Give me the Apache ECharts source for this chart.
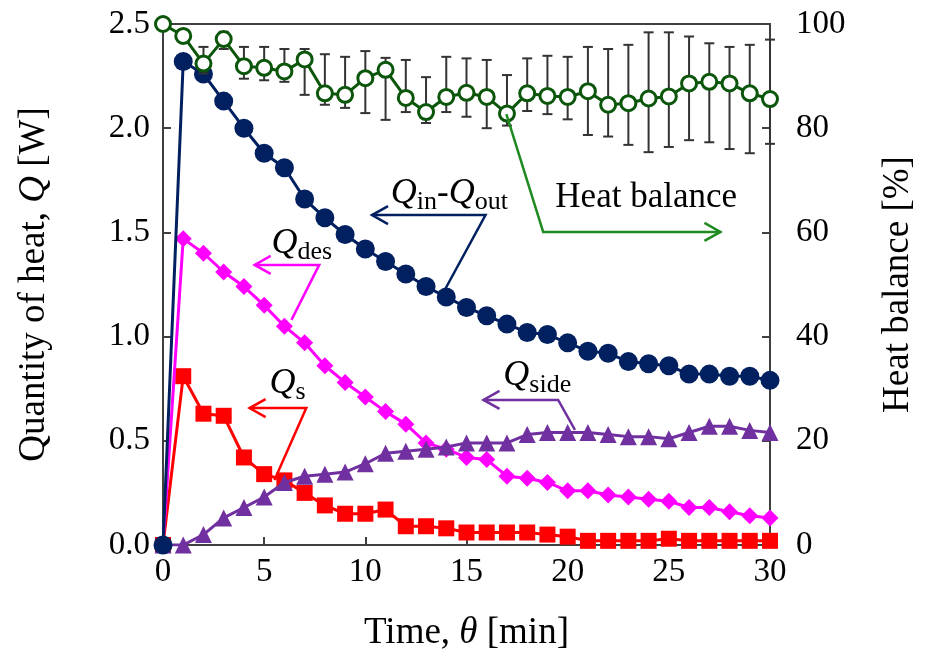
<!DOCTYPE html>
<html>
<head>
<meta charset="utf-8">
<title>heat balance</title>
<script src="https://cdn.jsdelivr.net/npm/echarts@6/dist/echarts.min.js"></script>
<style>
  html, body { margin: 0; padding: 0; background: #fff; }
  #container { width: 925px; height: 665px; }
</style>
</head>
<body>
<div id="container"></div>
<script type="text/javascript">
    // time [min]
    var times = [0, 1, 2, 3, 4, 5, 6, 7, 8, 9, 10, 11, 12, 13, 14, 15, 16, 17, 18, 19, 20, 21, 22, 23, 24, 25, 26, 27, 28, 29, 30];
    // Qin - Qout [W]
    var qNet = [0, 2.32, 2.26, 2.13, 2.00, 1.88, 1.81, 1.66, 1.57, 1.49, 1.42, 1.36, 1.30, 1.24, 1.19, 1.14,
                1.10, 1.06, 1.02, 1.01, 0.97, 0.93, 0.92, 0.88, 0.87, 0.86, 0.82, 0.82, 0.81, 0.81, 0.79];
    // Qdes [W]
    var qDes = [0, 1.47, 1.40, 1.31, 1.24, 1.15, 1.05, 0.97, 0.86, 0.78, 0.71, 0.64, 0.58, 0.49, 0.46, 0.42,
                0.41, 0.33, 0.32, 0.30, 0.26, 0.26, 0.24, 0.23, 0.22, 0.21, 0.18, 0.18, 0.16, 0.14, 0.13];
    // Qs [W]
    var qS = [0, 0.81, 0.63, 0.62, 0.42, 0.34, 0.31, 0.25, 0.19, 0.15, 0.15, 0.17, 0.09, 0.09, 0.08, 0.06,
              0.06, 0.06, 0.06, 0.05, 0.04, 0.02, 0.02, 0.02, 0.02, 0.03, 0.02, 0.02, 0.02, 0.02, 0.02];
    // Qside [W]
    var qSide = [0, 0.00, 0.05, 0.13, 0.18, 0.23, 0.30, 0.33, 0.34, 0.35, 0.39, 0.44, 0.45, 0.46, 0.47, 0.49,
                 0.49, 0.49, 0.53, 0.54, 0.54, 0.54, 0.53, 0.52, 0.52, 0.51, 0.54, 0.57, 0.57, 0.55, 0.54];
    // heat balance [%] and its error bar ends
    var heatBalance = [100, 97.7, 92.4, 97.1, 91.9, 91.6, 90.9, 93.2, 86.7, 86.4, 89.6, 91.2, 85.8, 83.1, 86.0, 86.8,
                       86.0, 82.8, 86.7, 86.2, 86.0, 87.1, 84.5, 84.8, 85.7, 86.1, 88.6, 88.9, 88.6, 86.7, 85.6];
    var hbHigh = [null, null, 95.6, 98.5, 95.6, 95.6, 95.2, 95.2, 94.2, 93.7, 94.8, 93.5, 93.1, 89.8, 93.7, 93.4,
                  93.1, 90.2, 93.4, 93.9, 93.7, 95.6, 95.2, 96.0, 98.4, 98.4, 97.6, 96.3, 95.6, 96.0, 97.0];
    var hbLow = [null, null, 90.5, 95.2, 89.5, 89.2, 88.9, 86.4, 84.5, 83.9, 82.9, 81.6, 83.1, 81.0, 83.1, 82.2,
                 80.0, 80.5, 83.3, 82.7, 81.7, 78.7, 78.4, 76.8, 75.4, 76.4, 77.7, 77.3, 76.0, 75.2, 77.0];

    // tick labels
    var xTicks = [0, 5, 10, 15, 20, 25, 30];
    var qTicks = ['0.0', '0.5', '1.0', '1.5', '2.0', '2.5'];
    var hbTicks = [0, 20, 40, 60, 80, 100];

    // annotation anchors in data units: [time, value]; axis 0 = Q, 1 = heat balance
    var notes = [
        {axis: 0, color: '#002060', dir: -1, label: ['Q', 'in', '-', 'Q', 'out'],
         text: [11.26, 1.60], path: [[13.87, 1.214], [15.94, 1.583], [10.33, 1.583]]},
        {axis: 0, color: '#ff00ff', dir: -1, label: ['Q', 'des'],
         text: [5.36, 1.36], path: [[6.35, 1.08], [7.72, 1.344], [4.53, 1.344]]},
        {axis: 0, color: '#ff0000', dir: -1, label: ['Q', 's'],
         text: [5.26, 0.69], path: [[5.51, 0.312], [7.08, 0.657], [4.28, 0.657]]},
        {axis: 0, color: '#7030a0', dir: -1, label: ['Q', 'side'],
         text: [16.82, 0.725], path: [[20.36, 0.552], [19.53, 0.696], [15.84, 0.696]]},
        {axis: 1, color: '#1f8a1f', dir: 1, label: ['Heat balance'],
         text: [19.39, 63.3], path: [[16.97, 82.7], [18.79, 60.1], [27.55, 60.1]]}
    ];

    var FONT = '"Liberation Serif", "Times New Roman", serif';

    var pairs = function (ys) {
        return times.map(function (t, i) { return [t, ys[i]]; });
    };
    var errData = [];
    for (var i = 0; i < times.length; i++) {
        if (hbHigh[i] != null) errData.push([times[i], hbLow[i], hbHigh[i]]);
    }

    var dom = document.getElementById('container');
    var myChart = echarts.init(dom, null, {renderer: 'canvas'});

    var titleRich = {
        n: {fontFamily: FONT, fontSize: 37, color: '#000'},
        i: {fontFamily: FONT, fontSize: 37, fontStyle: 'italic', color: '#000'}
    };

    var option = {
        animation: false,
        backgroundColor: '#fff',
        textStyle: {fontFamily: FONT, color: '#000'},
        grid: {
            left: 163, right: 152, top: 24, bottom: 120,
            show: true, borderColor: '#404040', borderWidth: 2
        },
        xAxis: {
            type: 'value', min: 0, max: 30, interval: 5,
            name: '{n|Time, }{i|θ}{n| [min]}',
            nameLocation: 'middle', nameGap: 70,
            nameTextStyle: {rich: titleRich},
            axisLine: {onZero: false, lineStyle: {color: '#404040', width: 2}},
            axisTick: {inside: true, length: 8, lineStyle: {color: '#404040', width: 2}},
            axisLabel: {
                fontFamily: FONT, fontSize: 33, color: '#000', margin: 11,
                formatter: function (v) { return xTicks.indexOf(v) >= 0 ? String(v) : ''; }
            },
            splitLine: {show: false}
        },
        yAxis: [
            {
                type: 'value', min: 0, max: 2.5, interval: 0.5,
                name: '{n|Quantity of heat, }{i|Q}{n| [W]}',
                nameLocation: 'middle', nameGap: 110, nameRotate: 90,
                nameTextStyle: {rich: titleRich},
                axisLine: {show: true, lineStyle: {color: '#404040', width: 2}},
                axisTick: {show: true, inside: true, length: 8, lineStyle: {color: '#404040', width: 2}},
                axisLabel: {
                    fontFamily: FONT, fontSize: 33, color: '#000', margin: 13,
                    formatter: function (v) { return qTicks[Math.round(v / 0.5)]; }
                },
                splitLine: {show: false}
            },
            {
                type: 'value', min: 0, max: 100, interval: 20, position: 'right',
                name: 'Heat balance [%]',
                nameLocation: 'middle', nameGap: 110, nameRotate: 90,
                nameTextStyle: {fontFamily: FONT, fontSize: 37, color: '#000'},
                axisLine: {show: true, lineStyle: {color: '#404040', width: 2}},
                axisTick: {show: true, inside: true, length: 8, lineStyle: {color: '#404040', width: 2}},
                axisLabel: {
                    fontFamily: FONT, fontSize: 33, color: '#000', margin: 26,
                    formatter: function (v) { return hbTicks.indexOf(v) >= 0 ? String(v) : ''; }
                },
                splitLine: {show: false}
            }
        ],
        series: [
            {
                name: 'Qs', type: 'line', data: pairs(qS), z: 3,
                symbol: 'rect', symbolSize: 16,
                lineStyle: {color: '#ff0000', width: 3},
                itemStyle: {color: '#ff0000'}
            },
            {
                name: 'Qdes', type: 'line', data: pairs(qDes), z: 4,
                symbol: 'diamond', symbolSize: 17,
                lineStyle: {color: '#ff00ff', width: 3},
                itemStyle: {color: '#ff00ff'}
            },
            {
                name: 'Qside', type: 'line', data: pairs(qSide), z: 5,
                symbol: 'triangle', symbolSize: 17,
                lineStyle: {color: '#7030a0', width: 3},
                itemStyle: {color: '#7030a0'}
            },
            {
                name: 'Qin-Qout', type: 'line', data: pairs(qNet), z: 6,
                symbol: 'circle', symbolSize: 19,
                lineStyle: {color: '#002060', width: 3},
                itemStyle: {color: '#002060'}
            },
            {
                name: 'err', type: 'custom', yAxisIndex: 1, z: 7,
                data: errData,
                renderItem: function (params, api) {
                    var top = api.coord([api.value(0), api.value(2)]);
                    var bot = api.coord([api.value(0), api.value(1)]);
                    var w = 5;
                    var st = {stroke: '#333', lineWidth: 2};
                    return {
                        type: 'group',
                        children: [
                            {type: 'line', shape: {x1: top[0], y1: top[1], x2: bot[0], y2: bot[1]}, style: st},
                            {type: 'line', shape: {x1: top[0] - w, y1: top[1], x2: top[0] + w, y2: top[1]}, style: st},
                            {type: 'line', shape: {x1: bot[0] - w, y1: bot[1], x2: bot[0] + w, y2: bot[1]}, style: st}
                        ]
                    };
                }
            },
            {
                name: 'Heat balance', type: 'line', yAxisIndex: 1, data: pairs(heatBalance), z: 8,
                symbol: 'circle', symbolSize: 15,
                lineStyle: {color: '#0c560c', width: 3},
                itemStyle: {color: '#fff', borderColor: '#0c560c', borderWidth: 3}
            }
        ]
    };

    myChart.setOption(option, true);

    // annotations: label text + polyline with an open arrow head at its last point
    var graphics = [];
    notes.forEach(function (n) {
        var finder = {xAxisIndex: 0, yAxisIndex: n.axis};
        var pts = n.path.map(function (p) { return myChart.convertToPixel(finder, p); });
        var tip = pts[pts.length - 1];
        var d = n.dir;
        graphics.push({
            type: 'polyline', z: 20, silent: true,
            shape: {points: pts},
            style: {stroke: n.color, lineWidth: 2.5, fill: null}
        });
        graphics.push({
            type: 'polyline', z: 20, silent: true,
            shape: {points: [[tip[0] - d * 16, tip[1] - 9], tip, [tip[0] - d * 16, tip[1] + 9]]},
            style: {stroke: n.color, lineWidth: 2.5, fill: null}
        });
        var tp = myChart.convertToPixel(finder, n.text);
        var str;
        if (n.label.length === 1) {
            str = '{n|' + n.label[0] + '}';
        } else {
            str = n.label.map(function (s) {
                if (s === 'Q') return '{q|Q}';
                if (s === '-') return '{n|-}';
                return '{s|' + s + '}';
            }).join('');
        }
        graphics.push({
            type: 'text', z: 21, silent: true,
            x: tp[0], y: tp[1],
            style: {
                text: str,
                align: 'left', verticalAlign: 'bottom',
                rich: {
                    n: {fontFamily: FONT, fontSize: 35, fill: '#000', verticalAlign: 'bottom'},
                    q: {fontFamily: FONT, fontSize: 36, fontStyle: 'italic', fill: '#000', verticalAlign: 'bottom'},
                    s: {fontFamily: FONT, fontSize: 26, fill: '#000', verticalAlign: 'bottom', padding: [0, 0, -4, 0]}
                }
            }
        });
    });
    myChart.setOption({graphic: graphics});
</script>
</body>
</html>
